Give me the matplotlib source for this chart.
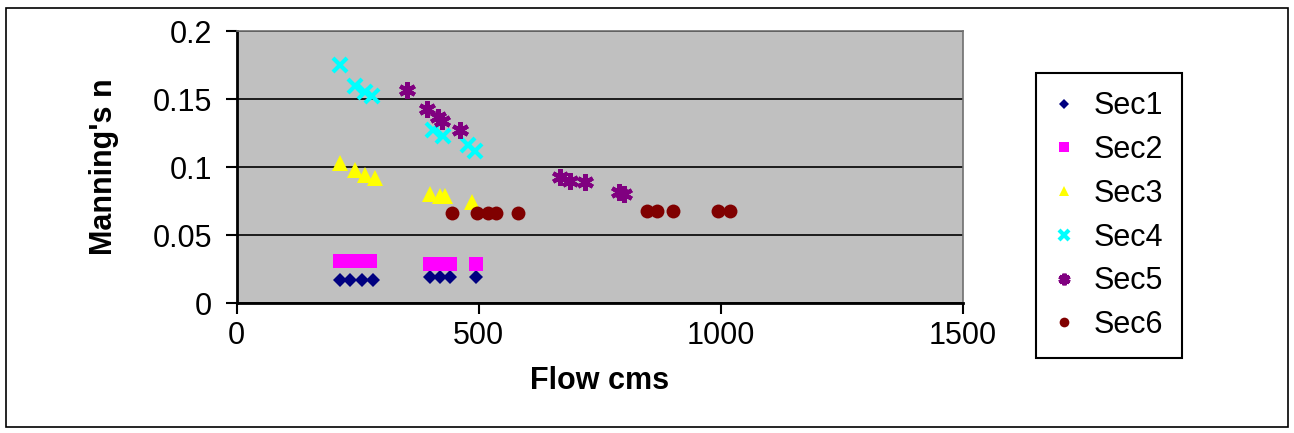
#!/usr/bin/env python3
import matplotlib.pyplot as plt
from matplotlib.patches import Rectangle
from matplotlib.ticker import FuncFormatter

plt.rcParams['font.family'] = ['Liberation Sans', 'DejaVu Sans']

# values (flow in cms, Manning's n)
sec1_q = [213, 233, 258, 281, 399, 419, 440, 494]
sec1_n = [0.017, 0.017, 0.017, 0.017, 0.019, 0.019, 0.019, 0.019]
sec2_q = [213, 233, 254, 275, 399, 419, 440, 494]
sec2_n = [0.031, 0.031, 0.031, 0.031, 0.029, 0.029, 0.029, 0.029]
sec3_q = [213, 244, 264, 285, 399, 419, 430, 486]
sec3_n = [0.103, 0.098, 0.094, 0.092, 0.080, 0.079, 0.079, 0.074]
sec4_q = [213, 244, 264, 279, 405, 426, 477, 492]
sec4_n = [0.175, 0.160, 0.155, 0.152, 0.127, 0.123, 0.116, 0.112]
sec5_q = [351, 393, 415, 425, 461, 667, 688, 719, 790, 800]
sec5_n = [0.157, 0.143, 0.137, 0.134, 0.127, 0.093, 0.090, 0.089, 0.082, 0.080]
sec6_q = [444, 496, 520, 535, 581, 847, 868, 901, 994, 1019]
sec6_n = [0.066, 0.066, 0.066, 0.066, 0.066, 0.068, 0.068, 0.068, 0.068, 0.068]

labels = ['Sec1', 'Sec2', 'Sec3', 'Sec4', 'Sec5', 'Sec6']
xticks = [0, 500, 1000, 1500]
yticks = [0, 0.05, 0.1, 0.15, 0.2]

series = [(sec1_q, sec1_n), (sec2_q, sec2_n), (sec3_q, sec3_n),
          (sec4_q, sec4_n), (sec5_q, sec5_n), (sec6_q, sec6_n)]
styles = [
  dict(marker='D', color='#000080', ms=7, mew=0),
  dict(marker='s', color='#FF00FF', ms=10, mew=0),
  dict(marker='^', color='#FFFF00', ms=11, mew=0),
  dict(marker='x', color='#00FFFF', ms=10, mew=3),
  dict(marker=(6, 2, 0), color='#800080', ms=12, mew=3),
  dict(marker='o', color='#800000', ms=10, mew=0),
]

fs = 22

fig = plt.figure(figsize=(12.94, 4.33), dpi=100)
ax = fig.add_axes([0.183, 0.300, 0.561, 0.628])
ax.set_facecolor('#C0C0C0')

for (q, n), lab, st in zip(series, labels, styles):
  ax.plot(q, n, linestyle='None', label=lab, **st)

ax.set_xlim(0, 1500)
ax.set_ylim(0, 0.2)
ax.set_xticks(xticks)
ax.set_yticks(yticks)
ax.yaxis.set_major_formatter(FuncFormatter(lambda v, p: '%g' % v))
ax.tick_params(axis='both', labelsize=fs, length=8, width=1.5, direction='out', color='black')
ax.tick_params(axis='y', pad=10)
ax.tick_params(axis='x', pad=5)
ax.grid(axis='y', color='black', linewidth=1.2)
ax.set_axisbelow(True)
for s in ['left', 'bottom']:
  ax.spines[s].set_linewidth(2)
  ax.spines[s].set_color('black')
for s in ['right', 'top']:
  ax.spines[s].set_linewidth(1.2)
  ax.spines[s].set_color('#707070')

ax.set_xlabel('Flow cms', fontsize=fs, fontweight='bold', labelpad=11)
ax.set_ylabel("Manning's n", fontsize=fs, fontweight='bold', labelpad=24)

leg = fig.legend(loc='upper left', bbox_to_anchor=(1036/1294, 1 - 73/433), fontsize=fs,
                 frameon=True, fancybox=False, edgecolor='black', framealpha=1,
                 labelspacing=0.45, handlelength=0.6, handletextpad=0.7, borderpad=0.6,
                 markerscale=0.7, borderaxespad=0)
leg.get_frame().set_linewidth(1.5)

# outer border around the whole chart
fig.patches.append(Rectangle((6/1294, 6/433), 1282/1294, 419/433, transform=fig.transFigure,
                             fill=False, edgecolor='black', linewidth=1.2))

plt.savefig('out.png', dpi=100)
plt.close()
